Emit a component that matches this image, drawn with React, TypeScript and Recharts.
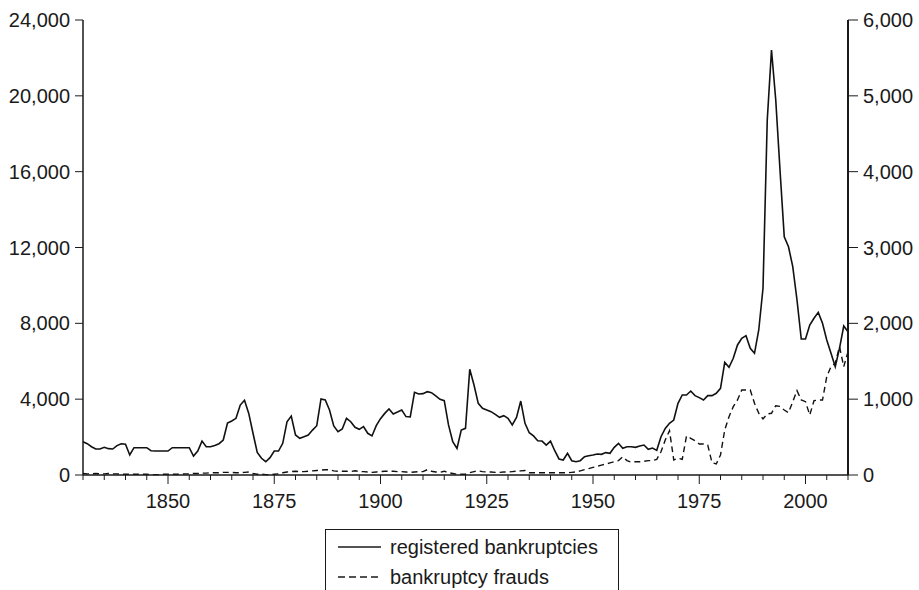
import { Line, LineChart, XAxis, YAxis } from 'recharts';

const FIRST_YEAR = 1830;

// registered bankruptcies, 1830-2010 (left axis)
const bankruptcies = [
  1750, 1650, 1490, 1370, 1370, 1460, 1390, 1370, 1550, 1650,
  1620, 1055, 1440, 1440, 1440, 1440, 1280, 1265, 1265, 1265,
  1265, 1440, 1440, 1440, 1440, 1440, 1000, 1265, 1790, 1490,
  1490, 1560, 1650, 1845, 2740, 2850, 2990, 3690, 3940, 3250,
  2200, 1195, 880, 700, 915, 1265, 1265, 1670, 2810, 3110,
  2110, 1935, 2020, 2110, 2370, 2600, 4010, 3955, 3430, 2585,
  2285, 2425, 2990, 2810, 2515, 2410, 2550, 2200, 2060, 2600,
  2970, 3250, 3480, 3220, 3320, 3430, 3080, 3060, 4360, 4270,
  4290, 4395, 4340, 4170, 3990, 3920, 2640, 1760, 1405, 2370,
  2460, 5575, 4750, 3780, 3515, 3430, 3340, 3200, 3040, 3130,
  2990, 2640, 3040, 3900, 2725, 2230, 2060, 1810, 1790, 1580,
  1790, 1280, 845, 790, 1145, 755, 700, 755, 965, 1020,
  1055, 1110, 1090, 1180, 1145, 1460, 1670, 1405, 1490, 1490,
  1460, 1530, 1580, 1355, 1420, 1300, 2020, 2460, 2725, 2900,
  3780, 4220, 4220, 4430, 4185, 4080, 3955, 4185, 4185, 4310,
  4570, 5945, 5680, 6155, 6860, 7210, 7350, 6680, 6420, 7650,
  9850, 18730, 22420, 19780, 16090, 12570, 12040, 10990, 9230, 7170,
  7170, 7910, 8270, 8580, 8000, 7120, 6420, 5710, 6680, 7860, 7560,
];

// bankruptcy frauds, 1830-2010 (right axis)
const frauds = [
  20, 15, 15, 20, 15, 15, 20, 15, 15, 10,
  10, 10, 10, 10, 10, 10, 5, 5, 5, 10,
  10, 10, 10, 10, 15, 15, 20, 20, 25, 25,
  30, 30, 30, 35, 35, 35, 30, 30, 35, 40,
  20, 10, 10, 5, 5, 10, 15, 30, 40, 45,
  50, 45, 45, 50, 55, 60, 65, 70, 70, 55,
  50, 50, 50, 45, 55, 45, 45, 40, 35, 40,
  45, 50, 50, 50, 45, 45, 40, 35, 40, 45,
  45, 70, 50, 40, 35, 50, 30, 20, 10, 10,
  10, 30, 45, 55, 45, 40, 40, 35, 35, 40,
  40, 45, 50, 55, 60, 30, 30, 30, 30, 30,
  30, 30, 30, 30, 30, 35, 40, 55, 70, 85,
  100, 115, 130, 145, 160, 175, 190, 240, 190, 170,
  175, 175, 180, 190, 190, 207, 307, 462, 585, 198,
  220, 207, 514, 484, 452, 409, 409, 396, 162, 145,
  264, 594, 769, 901, 989, 1121, 1121, 1121, 946, 814,
  739, 805, 814, 914, 905, 857, 822, 967, 1112, 989,
  967, 791, 980, 989, 989, 1297, 1429, 1473, 1692, 1429, 1626,
];

const yearTicks = [
  1830, 1835, 1840, 1845, 1850, 1855, 1860, 1865, 1870, 1875, 1880, 1885,
  1890, 1895, 1900, 1905, 1910, 1915, 1920, 1925, 1930, 1935, 1940, 1945,
  1950, 1955, 1960, 1965, 1970, 1975, 1980, 1985, 1990, 1995, 2000, 2005, 2010,
];
const leftTicks = [0, 4000, 8000, 12000, 16000, 20000, 24000];
const rightTicks = [0, 1000, 2000, 3000, 4000, 5000, 6000];

const FONT = '"Liberation Sans", Arial, Helvetica, sans-serif';
const INK = '#1a1a1a';

const data = bankruptcies.map((v, i) => ({
  year: FIRST_YEAR + i,
  registered: v,
  frauds: frauds[i],
}));

const fmt = (v: number) => v.toLocaleString('en-US');

function YearTick({ x, y, payload }: any) {
  const major = payload.value % 25 === 0;
  return (
    <g>
      <line x1={x} y1={y} x2={x} y2={y + (major ? 9 : 5)} stroke={INK} strokeWidth={1} />
      {major && (
        <text x={x} y={y + 33} textAnchor="middle" fontSize={20} fontFamily={FONT} fill={INK}>
          {payload.value}
        </text>
      )}
    </g>
  );
}

function LegendBox() {
  const row = { display: 'flex', alignItems: 'center', height: 30 } as const;
  return (
    <div
      style={{
        position: 'absolute',
        left: 325,
        top: 529,
        width: 294,
        height: 70,
        border: `1px solid ${INK}`,
        borderBottom: 'none',
        fontFamily: FONT,
        fontSize: 20,
        color: INK,
        paddingTop: 2,
        boxSizing: 'border-box',
      }}
    >
      <div style={row}>
        <svg width={64} height={10} style={{ marginLeft: 0 }}>
          <line x1={12} y1={5} x2={55} y2={5} stroke={INK} strokeWidth={1.5} />
        </svg>
        <span>registered bankruptcies</span>
      </div>
      <div style={row}>
        <svg width={64} height={10}>
          <line x1={12} y1={5} x2={55} y2={5} stroke={INK} strokeWidth={1.5} strokeDasharray="7 4" />
        </svg>
        <span>bankruptcy frauds</span>
      </div>
    </div>
  );
}

export default function App() {
  return (
    <div
      style={{
        position: 'fixed',
        left: 0,
        top: 0,
        width: 919,
        height: 590,
        background: '#fff',
        overflow: 'hidden',
        fontFamily: FONT,
      }}
    >
      <LineChart
        width={919}
        height={590}
        data={data}
        margin={{ top: 20, right: 0, left: 0, bottom: 75 }}
      >
        <XAxis
          dataKey="year"
          type="number"
          domain={[1830, 2010]}
          ticks={yearTicks}
          interval={0}
          height={40}
          tickSize={0}
          tickMargin={0}
          tickLine={false}
          axisLine={{ stroke: INK, strokeWidth: 1.5 }}
          tick={<YearTick />}
        />
        <XAxis
          xAxisId="top"
          dataKey="year"
          type="number"
          orientation="top"
          domain={[1830, 2010]}
          height={0}
          tick={false}
          tickLine={false}
          axisLine={{ stroke: INK, strokeWidth: 1.5 }}
        />
        <YAxis
          yAxisId="left"
          width={83}
          domain={[0, 24000]}
          ticks={leftTicks}
          interval={0}
          tickFormatter={fmt}
          tickSize={8}
          tickMargin={5}
          axisLine={{ stroke: INK, strokeWidth: 1.5 }}
          tickLine={{ stroke: INK }}
          tick={{ fontSize: 20, fill: INK, fontFamily: FONT }}
        />
        <YAxis
          yAxisId="right"
          orientation="right"
          width={71}
          domain={[0, 6000]}
          ticks={rightTicks}
          interval={0}
          tickFormatter={fmt}
          tickSize={10}
          tickMargin={5}
          axisLine={{ stroke: INK, strokeWidth: 2 }}
          tickLine={{ stroke: INK }}
          tick={{ fontSize: 20, fill: INK, fontFamily: FONT }}
        />
        <Line
          yAxisId="left"
          type="linear"
          dataKey="registered"
          stroke="#111"
          strokeWidth={1.6}
          dot={false}
          isAnimationActive={false}
        />
        <Line
          yAxisId="right"
          type="linear"
          dataKey="frauds"
          stroke="#111"
          strokeWidth={1.4}
          strokeDasharray="6 4"
          dot={false}
          isAnimationActive={false}
        />
      </LineChart>
      <LegendBox />
    </div>
  );
}
